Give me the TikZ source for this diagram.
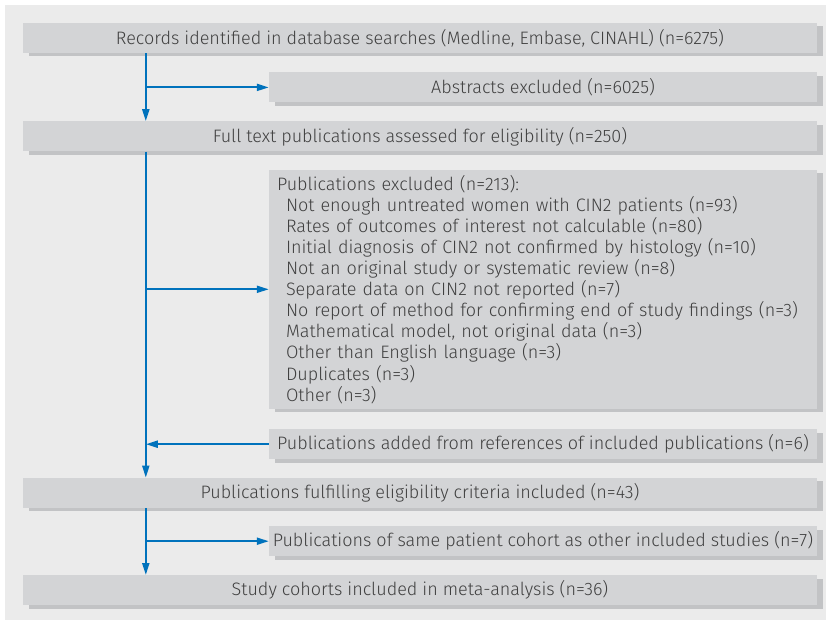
\documentclass[tikz,border=0pt]{standalone}
\usepackage{fontspec}
\setmainfont{Fira Sans}[UprightFont=* Light]
\usetikzlibrary{positioning,shadows,arrows.meta}
\definecolor{bggray}{RGB}{235,235,235}
\definecolor{boxgray}{RGB}{211,212,214}
\definecolor{shadowgray}{RGB}{194,195,197}
\definecolor{flowblue}{RGB}{0,114,188}
\definecolor{textgray}{RGB}{64,64,64}
\begin{document}
\begin{tikzpicture}[x=1pt,y=-1pt,inner sep=0pt,font=\fontsize{18}{21.1}\selectfont,text=textgray]
\tikzstyle{box}=[rectangle, fill=boxgray, minimum height=30pt, drop shadow={shadow xshift=5.5pt, shadow yshift=-3.5pt, fill=shadowgray, opacity=1}]
\tikzstyle{main}=[box, minimum width=794pt]
\tikzstyle{side}=[box, minimum width=548pt]
\tikzstyle{connect}=[-{Triangle[length=12pt,width=7pt]}, line width=2pt, draw=flowblue]
\useasboundingbox (0,0) rectangle (826,620);
\fill[bggray] (5,5) rectangle (826,620);
\node[main] (rec) at (420,38) {Records identified in database searches (Medline, Embase, CINAHL) (n=6275)};
\node[side] (abst) [below left=19pt and 0pt of rec.south east] {Abstracts excluded (n=6025)};
\node[main] (full) [below=68pt of rec] {Full text publications assessed for eligibility (n=250)};
\node[side,minimum height=239pt,text width=532pt,inner xsep=8pt,align=left] (excl) [below left=18pt and 0pt of full.south east] {Publications excluded (n=213):\\
\hspace*{9pt}Not enough untreated women with CIN2 patients (n=93)\\
\hspace*{9pt}Rates of outcomes of interest not calculable (n=80)\\
\hspace*{9pt}Initial diagnosis of CIN2 not confirmed by histology (n=10)\\
\hspace*{9pt}Not an original study or systematic review (n=8)\\
\hspace*{9pt}Separate data on CIN2 not reported (n=7)\\
\hspace*{9pt}No report of method for confirming end of study findings (n=3)\\
\hspace*{9pt}Mathematical model, not original data (n=3)\\
\hspace*{9pt}Other than English language (n=3)\\
\hspace*{9pt}Duplicates (n=3)\\
\hspace*{9pt}Other (n=3)};
\node[side] (added) [below left=20pt and 0pt of excl.south east] {Publications added from references of included publications (n=6)};
\node[main] (elig) [below=326pt of full] {Publications fulfilling eligibility criteria included (n=43)};
\node[side] (same) [below left=18pt and 0pt of elig.south east] {Publications of same patient cohort as other included studies (n=7)};
\node[main] (study) [below=67pt of elig] {Study cohorts included in meta-analysis (n=36)};
\coordinate (t1) at ([xshift=123pt]rec.south west);
\coordinate (t2) at ([xshift=123pt]full.south west);
\coordinate (t3) at ([xshift=123pt]elig.south west);
\draw[connect] (t1) -- (t1 |- full.north);
\draw[connect] (t1 |- abst.west) -- (abst.west);
\draw[connect] (t2) -- (t2 |- elig.north);
\draw[connect] (t2 |- excl.west) -- (excl.west);
\draw[connect] (added.west) -- (added.west -| t2);
\draw[connect] (t3) -- (t3 |- study.north);
\draw[connect] (t3 |- same.west) -- (same.west);
\end{tikzpicture}
\end{document}
